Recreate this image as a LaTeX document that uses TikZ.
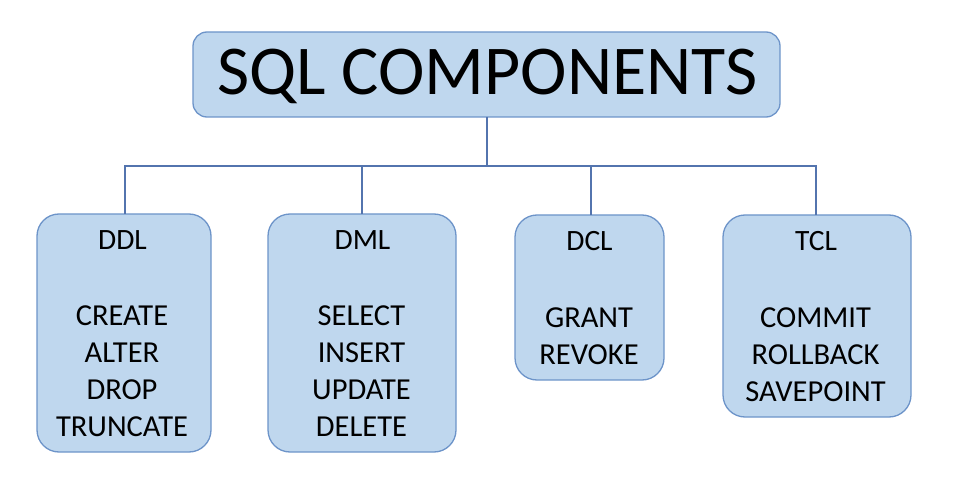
\documentclass[tikz,border=0pt]{standalone}
\usepackage{fontspec}
\setmainfont{Carlito}
\definecolor{boxfill}{HTML}{BFD7EE}
\definecolor{boxline}{HTML}{6D94C9}
\definecolor{conn}{HTML}{5374AE}
\begin{document}
\begin{tikzpicture}[x=1pt,y=-1pt,
  box/.style={draw=boxline,fill=boxfill,line width=1.3pt,rounded corners=14pt,inner sep=0pt},
  conline/.style={draw=conn,line width=1.6pt},
  txt/.style={inner sep=0pt,anchor=base,text=black},
  hd/.style={txt,font=\fontsize{29.5}{36}\selectfont},
  it/.style={txt,font=\fontsize{30.5}{37}\selectfont}]
\useasboundingbox (0,0) rectangle (969,497);
% top box
\path[box] (193,32) rectangle (780,117);
\node[txt,font=\fontsize{70}{80}\selectfont] (title) at (487.5,95) {SQL COMPONENTS};
\coordinate (tb) at (487,117);
\coordinate (hj) at (487,166);
% child boxes
\path[box,rounded corners=22pt] (37,214) rectangle (211,452);
\path[box,rounded corners=22pt] (268,214) rectangle (456,452);
\path[box,rounded corners=22pt] (515,215) rectangle (664,380);
\path[box,rounded corners=22pt] (723,215) rectangle (911,417);
\coordinate (ddl) at (125,214);
\coordinate (dml) at (362,214);
\coordinate (dcl) at (591,215);
\coordinate (tcl) at (816,215);
\draw[conline] (tb) -- (hj);
\draw[conline] (ddl) |- (hj) -| (tcl);
\draw[conline] (dml) -- (dml |- hj);
\draw[conline] (dcl) -- (dcl |- hj);
% texts
\node[hd] (ddlh) at (122.5,249.3) {DDL};
\foreach \t [count=\i] in {CREATE,ALTER,DROP,TRUNCATE}
  \node[it] (ddl\i) at (122,{325+37.3*(\i-1)}) {\t};
\node[hd] (dmlh) at (362.5,249.3) {DML};
\foreach \t [count=\i] in {SELECT,INSERT,UPDATE,DELETE}
  \node[it] (dml\i) at (361.5,{325+37.3*(\i-1)}) {\t};
\node[hd] (dclh) at (589.5,251) {DCL};
\foreach \t [count=\i] in {GRANT,REVOKE}
  \node[it] (dcl\i) at (589,{327+37.2*(\i-1)}) {\t};
\node[hd] (tclh) at (816,251) {TCL};
\foreach \t [count=\i] in {COMMIT,ROLLBACK,SAVEPOINT}
  \node[it] (tcl\i) at (815.5,{327+37.2*(\i-1)}) {\t};
\end{tikzpicture}
\end{document}
